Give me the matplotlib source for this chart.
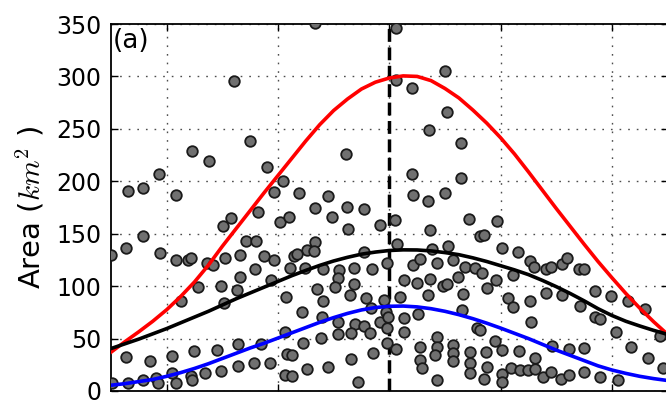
import matplotlib
matplotlib.use("Agg")
import matplotlib.pyplot as plt

plt.rcParams['font.family'] = ['DejaVu Sans']
plt.rcParams['mathtext.fontset'] = 'cm'

# scatter observations (x in arbitrary hidden units 0-100, y = Area km^2)
pts_x = [22.1, 36.7, 51.2, 60.0, 51.2, 54.0, 60.3, 57.1, 62.9, 25.0,
         42.2, 28.1, 30.9, 29.2, 33.8, 39.0, 62.9, 54.0, 54.2, 56.9,
         60.0, 3.0, 5.8, 8.7, 14.6, 17.6, 11.7, 0.0, 2.7, 5.7,
         8.8, 11.6, 13.8, 14.4, 17.2, 18.4, 20.4, 20.2, 12.5, 15.6,
         19.8, 20.3, 2.7, 7.0, 11.0, 14.9, 19.0, 0.2, 3.0, 5.8,
         8.0, 8.5, 10.9, 11.7, 14.3, 14.6, 16.9, 19.8, 26.4, 21.6,
         30.4, 32.0, 23.2, 24.3, 26.0, 27.5, 29.3, 32.1, 25.9, 32.9,
         22.6, 23.2, 28.7, 31.4, 31.3, 22.9, 26.9, 31.7, 22.9, 25.7,
         28.6, 31.3, 36.7, 39.7, 42.4, 45.5, 42.5, 48.3, 51.1, 64.3,
         57.4, 66.3, 36.6, 35.2, 36.4, 33.5, 45.5, 51.4, 57.7, 60.5,
         34.9, 38.0, 40.9, 43.7, 46.9, 49.6, 54.3, 55.5, 58.5, 61.5,
         63.6, 65.4, 37.1, 38.0, 40.8, 43.7, 43.0, 45.9, 49.0, 52.6,
         54.9, 51.9, 55.1, 57.3, 59.6, 60.3, 62.3, 34.3, 37.9, 40.8,
         43.9, 45.5, 46.5, 48.3, 49.4, 49.5, 52.6, 52.6, 40.2, 63.3,
         46.7, 49.8, 43.1, 40.7, 37.7, 34.5, 63.0, 65.7, 49.5, 51.2,
         55.5, 55.5, 55.8, 58.5, 58.5, 58.3, 61.5, 61.5, 61.4, 64.5,
         64.5, 64.5, 32.5, 47.1, 43.1, 39.0, 35.2, 32.5, 44.3, 58.5,
         57.0, 66.6, 67.5, 69.1, 72.3, 71.4, 72.3, 75.3, 78.2, 81.1,
         84.3, 87.0, 89.8, 92.9, 95.9, 87.0, 87.9, 90.7, 98.6, 75.5,
         66.3, 69.0, 70.2, 67.4, 67.5, 67.1, 70.3, 70.2, 73.3, 76.2,
         79.2, 82.3, 85.0, 93.5, 96.4, 99.2, 71.9, 73.5, 74.9, 76.2,
         77.7, 79.1, 80.8, 82.3, 85.0, 87.9, 91.0, 69.3, 67.0, 70.2,
         73.2, 75.3, 76.0, 78.2, 79.0, 81.0, 82.0, 84.1, 84.9]
pts_y = [295.8, 351.4, 346.4, 305.3, 296.8, 288.8, 266.5, 249.0, 236.9, 238.8,
         226.1, 213.5, 200.1, 190.2, 189.2, 186.1, 203.0, 206.8, 187.0, 181.3,
         188.9, 190.8, 193.4, 206.8, 229.0, 219.2, 187.3, 129.8, 136.5, 147.9,
         132.0, 125.0, 125.0, 127.2, 121.9, 120.2, 126.6, 157.4, 85.9, 99.2,
         99.7, 84.2, 32.9, 28.6, 33.4, 37.9, 39.4, 7.6, 7.3, 10.8,
         12.1, 7.9, 17.2, 7.3, 14.3, 10.8, 16.9, 18.8, 171.1, 164.8,
         161.1, 165.8, 129.8, 143.4, 143.3, 128.5, 125.3, 117.1, 115.9, 128.8,
         96.7, 108.3, 105.9, 90.0, 56.6, 44.7, 45.1, 35.3, 23.9, 26.4,
         26.4, 15.7, 174.6, 166.3, 175.9, 173.5, 154.4, 158.1, 162.9, 164.1,
         153.2, 147.9, 142.2, 134.3, 133.6, 130.9, 132.9, 140.6, 135.8, 138.5,
         117.6, 116.4, 115.0, 117.6, 116.4, 122.1, 120.6, 126.1, 122.1, 125.0,
         118.6, 117.1, 97.0, 85.4, 107.8, 102.1, 91.6, 88.5, 86.8, 105.9,
         102.8, 90.0, 73.8, 106.6, 99.9, 101.6, 109.1, 75.2, 70.6, 66.1,
         63.9, 62.0, 55.1, 65.4, 74.9, 60.1, 69.7, 56.6, 99.5, 92.6,
         78.9, 70.9, 55.1, 54.4, 50.9, 46.1, 77.3, 59.8, 46.1, 39.8,
         42.3, 29.6, 21.7, 51.8, 42.3, 34.4, 43.9, 36.5, 28.9, 37.5,
         26.4, 16.9, 34.4, 36.5, 30.2, 23.2, 20.7, 14.3, 8.9, 10.5,
         91.6, 112.3, 98.0, 105.9, 110.7, 88.5, 79.9, 86.2, 93.2, 91.6,
         81.4, 95.7, 90.6, 86.2, 78.0, 70.9, 68.4, 56.6, 52.5, 65.6,
         58.2, 48.0, 39.1, 37.5, 23.2, 11.2, 15.9, 8.9, 38.5, 31.2,
         42.9, 39.8, 40.7, 42.3, 31.2, 21.7, 21.7, 20.0, 20.0, 20.7,
         13.6, 18.4, 11.2, 15.3, 18.4, 13.6, 10.5, 162.5, 148.9, 136.7,
         132.3, 124.0, 118.6, 116.1, 118.0, 121.2, 127.2, 116.4, 116.1]

# fitted curves (every 2.5 x-units)
curve_x = [0, 2.5, 5, 7.5, 10, 12.5, 15, 17.5, 20, 22.5, 25, 27.5, 30, 32.5,
           35, 37.5, 40, 42.5, 45, 47.5, 50, 52.5, 55, 57.5, 60, 62.5, 65,
           67.5, 70, 72.5, 75, 77.5, 80, 82.5, 85, 87.5, 90, 92.5, 95, 97.5, 100]
red_y = [37, 47, 56.5, 66.5, 77.5, 90, 104, 120, 138, 155, 172, 189, 205.5, 222,
         238.5, 254, 267.5, 278.5, 288, 294.5, 298.5, 300.5, 300, 296, 288.5, 279.5, 268,
         255.5, 241.5, 226, 209, 191.5, 174, 157, 140, 123.5, 108, 93, 79, 66, 54]
black_y = [40.5, 45, 49.5, 54.5, 59.5, 65, 70.5, 76, 82, 88, 93.5, 99, 104.5, 110,
           115, 119.8, 124, 127.5, 130.5, 132.5, 134, 134.6, 134.5, 133.6, 132, 130, 127,
           123.5, 119.5, 115.5, 111, 105.5, 99.5, 93, 86, 78.5, 72, 66.5, 62, 57.8, 54]
blue_y = [5.5, 7, 9, 11, 14, 17.5, 21.5, 26, 31, 36, 41, 45.5, 50.5, 55.5,
          60.5, 65.5, 70, 74, 77.3, 79.6, 80.8, 81, 80.2, 78.5, 76, 72.8, 69,
          64.7, 60, 55, 50, 44.5, 39, 34, 29, 24, 20, 16.8, 14, 11.8, 10]

peak_x = 50
x_ticks = [10, 30, 50, 70, 90]
y_ticks = [0, 50, 100, 150, 200, 250, 300, 350]

fig = plt.figure(figsize=(6.66, 4.0), dpi=100)
ax = fig.add_axes([111 / 666, 9 / 400, 556.6 / 666, 367 / 400])

ax.scatter(pts_x, pts_y, s=58, facecolor='#707070', edgecolor='#1a1a1a',
           linewidths=1.3, zorder=3)
ax.plot(curve_x, red_y, color='#ff0000', lw=2.6, zorder=4)
ax.plot(curve_x, black_y, color='black', lw=2.6, zorder=4)
ax.plot(curve_x, blue_y, color='#0000ff', lw=2.6, zorder=4)
ax.axvline(peak_x, color='black', lw=2.5, ls='--', zorder=2)

ax.set_xlim(0, 100)
ax.set_ylim(0, 350)
ax.set_xticks(x_ticks)
ax.set_xticklabels([])
ax.set_yticks(y_ticks)
ax.grid(True, color='0.3', linestyle=(0, (1.2, 5)), linewidth=1.0, zorder=1)
ax.set_axisbelow(True)
ax.tick_params(direction='in', length=5, width=1, top=True, right=True,
               labelsize=17, pad=7)
for sp in ax.spines.values():
    sp.set_linewidth(1.3)

ax.set_ylabel('Area ($km^2$ )', fontsize=21, labelpad=7)
ax.text(0.003, 0.988, '(a)', transform=ax.transAxes, ha='left', va='top',
        fontsize=19)

fig.savefig('out.png', dpi=100)
